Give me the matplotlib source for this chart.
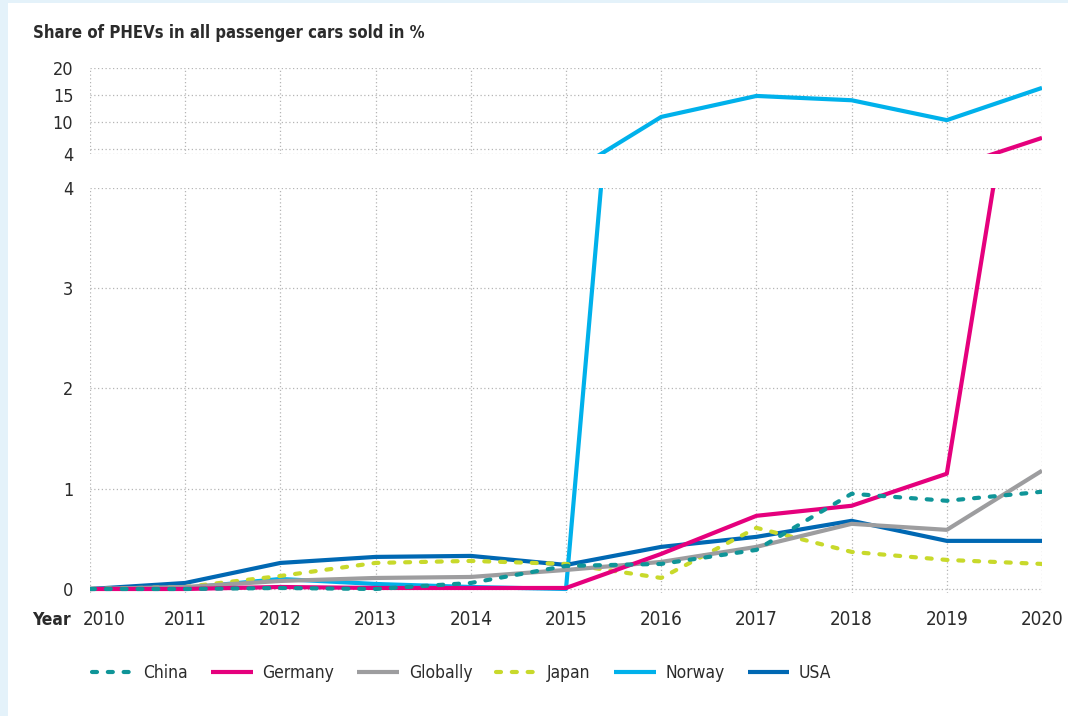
import matplotlib
matplotlib.use("Agg")
import matplotlib.pyplot as plt
from matplotlib.patches import Rectangle
from matplotlib.transforms import ScaledTranslation

plt.rcParams["font.family"] = ["DejaVu Sans"]
plt.rcParams["font.stretch"] = "condensed"

years = list(range(2010, 2021))
china = [0, 0, 0.01, 0, 0.06, 0.23, 0.25, 0.39, 0.95, 0.88, 0.97]
germany = [0, 0, 0.02, 0.01, 0.01, 0.01, 0.35, 0.73, 0.83, 1.15, 7.0]
globally = [0, 0.02, 0.08, 0.11, 0.12, 0.19, 0.27, 0.42, 0.65, 0.59, 1.18]
japan = [0, 0.02, 0.13, 0.26, 0.28, 0.25, 0.11, 0.61, 0.37, 0.29, 0.25]
norway = [0, 0.01, 0.10, 0.05, 0.02, 0.0, 10.9, 14.8, 14.0, 10.3, 16.3]
usa = [0, 0.06, 0.26, 0.32, 0.33, 0.24, 0.42, 0.52, 0.68, 0.48, 0.48]

top_ticks = [4, 10, 15, 20]
top_grid = [4, 5, 10, 15, 20]
bottom_ticks = [0, 1, 2, 3, 4]

# drawing order: last one ends up on top
series = [
    ("Norway", norway, "#00b1eb", "-"),
    ("USA", usa, "#0068b3", "-"),
    ("Japan", japan, "#c8d92b", "--"),
    ("Globally", globally, "#9d9d9f", "-"),
    ("Germany", germany, "#e5007d", "-"),
    ("China", china, "#0f9598", "--"),
]
legend_order = ["China", "Germany", "Globally", "Japan", "Norway", "USA"]

txt = "#2b2b2b"
grid_col = "#b5b5b5"
W, H = 1068, 716

fig = plt.figure(figsize=(W / 100, H / 100), dpi=100)
fig.patch.set_facecolor("#e4f2fa")
fig.add_artist(Rectangle((8 / W, 0), 1 - 8 / W, 1 - 3 / H, transform=fig.transFigure,
                         facecolor="white", edgecolor="none", zorder=-10))

x0, x1 = 90 / W, 1042 / W
ax_b = fig.add_axes([x0, (H - 593) / H, x1 - x0, (593 - 188) / H])
ax_t = fig.add_axes([x0, (H - 154) / H, x1 - x0, (154 - 68) / H])

handles = {}
for name, vals, col, ls in series:
    for ax in (ax_b, ax_t):
        if ls == "--":
            ln, = ax.plot(years, vals, color=col, lw=3, linestyle=(0, (1.2, 2.6)),
                          dash_capstyle="round", solid_joinstyle="round")
        else:
            ln, = ax.plot(years, vals, color=col, lw=3, solid_joinstyle="round",
                          solid_capstyle="butt")
    handles[name] = ln

ax_b.set_ylim(-0.04, 4)
ax_t.set_ylim(4, 20)

for ax in (ax_b, ax_t):
    ax.set_xlim(2010, 2020)
    ax.set_xticks(years)
    for s in ax.spines.values():
        s.set_visible(False)
    ax.tick_params(length=0, colors=txt)
    ax.set_facecolor("none")
    for y in years:
        ax.axvline(y, color=grid_col, lw=0.9, ls=(0, (1, 2)), zorder=0)

for v in bottom_ticks:
    ax_b.axhline(v, color=grid_col, lw=0.9, ls=(0, (1, 2)), zorder=0)
for v in top_grid:
    ax_t.axhline(v, color=grid_col, lw=0.9, ls=(0, (1, 2)), zorder=0)

ax_b.set_yticks(bottom_ticks)
ax_b.set_yticklabels([str(v) for v in bottom_ticks], fontsize=13)
ax_b.tick_params(axis="y", pad=12)
ax_b.set_xticklabels([str(y) for y in years], fontsize=13.5)
ax_b.tick_params(axis="x", pad=12.5)
# first year label sits a bit to the right, next to "Year"
lab0 = ax_b.get_xticklabels()[0]
lab0.set_transform(lab0.get_transform() + ScaledTranslation(14 / 100, 0, fig.dpi_scale_trans))

ax_t.set_yticks(top_ticks)
ax_t.set_yticklabels([str(v) for v in top_ticks], fontsize=13)
ax_t.tick_params(axis="y", pad=12)
ax_t.set_xticklabels([])

fig.text(33 / W, 1 - 33 / H, "Share of PHEVs in all passenger cars sold in %",
         fontsize=12, fontweight="bold", color=txt, va="center", ha="left")
fig.text(32 / W, 1 - 620 / H, "Year", fontsize=12.5, fontweight="bold", color=txt,
         va="center", ha="left")

fig.legend([handles[n] for n in legend_order], legend_order, loc="center left",
           bbox_to_anchor=(76 / W, 1 - 673 / H), ncol=6, frameon=False,
           fontsize=12.5, handlelength=2.4, handletextpad=0.55, columnspacing=1.35,
           labelcolor=txt)

fig.savefig("out.png", dpi=100)
